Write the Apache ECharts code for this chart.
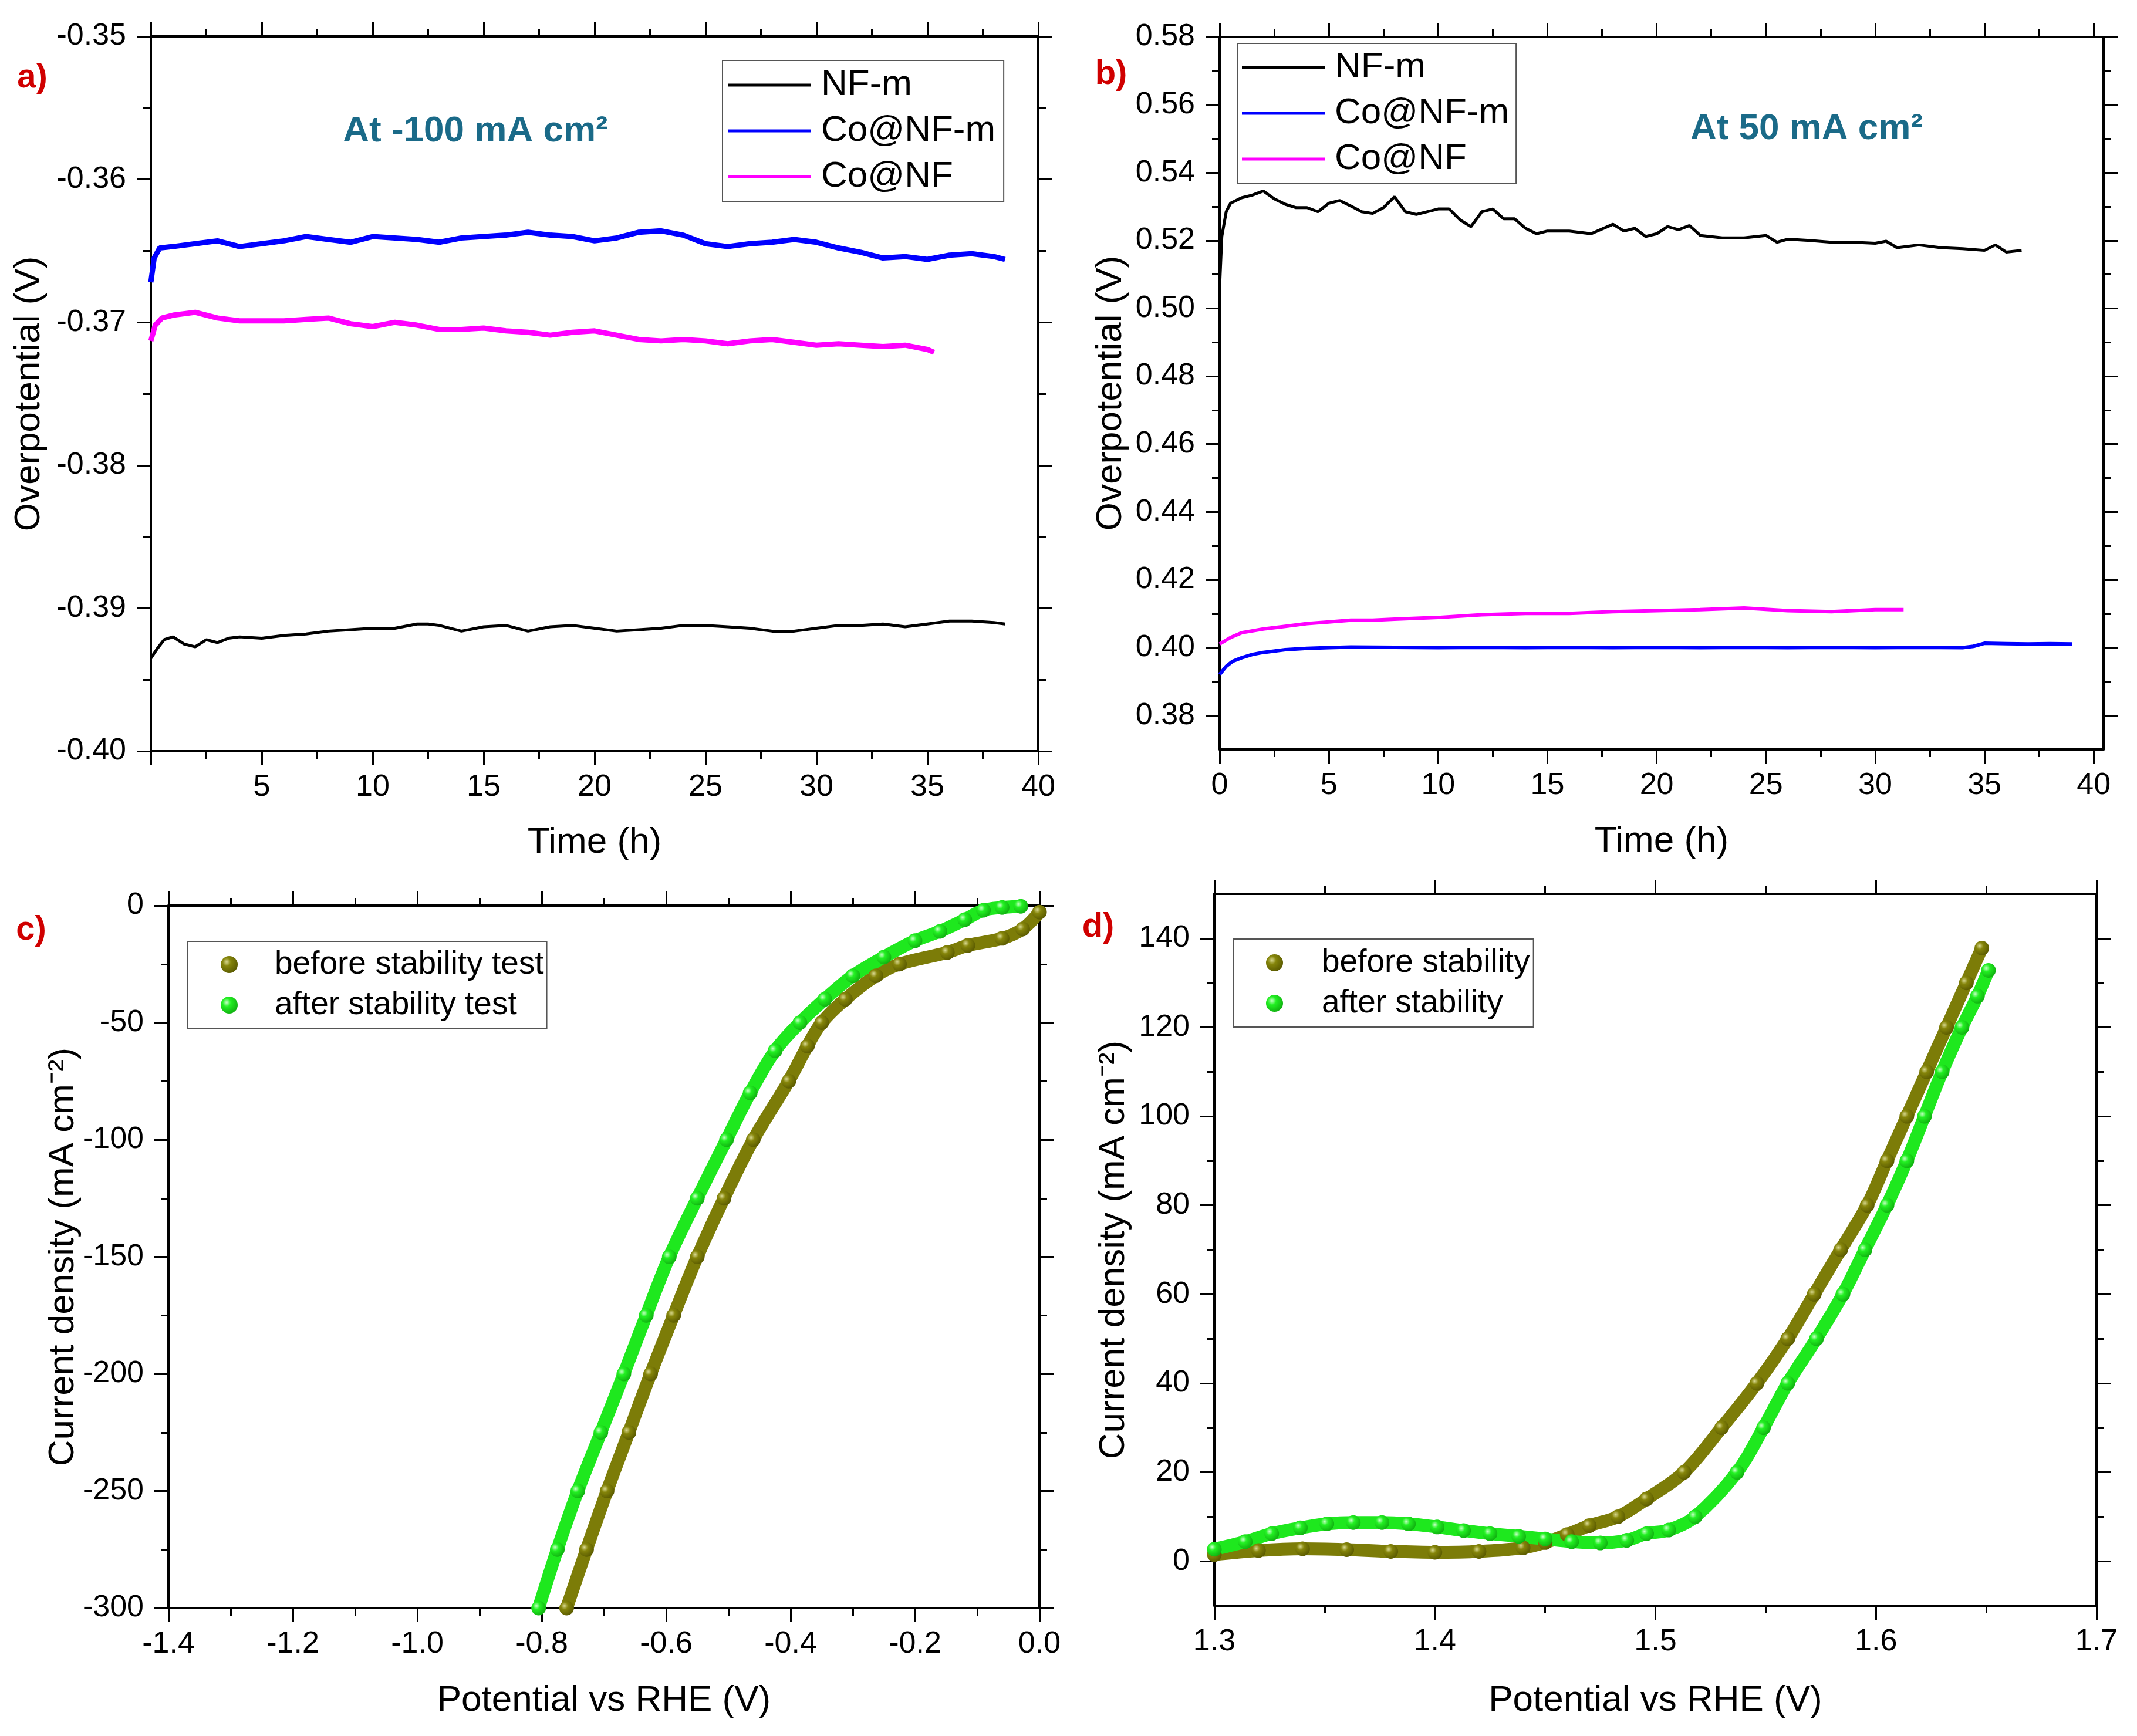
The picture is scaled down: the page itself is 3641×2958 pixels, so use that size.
<!DOCTYPE html>
<html>
<head>
<meta charset="utf-8">
<script src="https://cdn.jsdelivr.net/npm/echarts@6/dist/echarts.min.js"></script>
<style>
  html, body { margin: 0; padding: 0; background: #fff; }
  #main { width: 3641px; height: 2958px; }
</style>
</head>
<body>
<div id="main"></div>
<script>
// ---- panel a: overpotential at -100 mA cm2 ----
const timeNFmA = [0,0.3,0.6,1,1.5,2,2.5,3,3.5,4,5,6,7,8,9,10,11,12,12.5,13,14,15,16,17,18,19,20,21,22,23,24,25,26,27,28,29,30,31,32,33,34,35,36,37,38,38.5];
const nfmA = [-0.3935,-0.3928,-0.3922,-0.3920,-0.3925,-0.3927,-0.3922,-0.3924,-0.3921,-0.3920,-0.3921,-0.3919,-0.3918,-0.3916,-0.3915,-0.3914,-0.3914,-0.3911,-0.3911,-0.3912,-0.3916,-0.3913,-0.3912,-0.3916,-0.3913,-0.3912,-0.3914,-0.3916,-0.3915,-0.3914,-0.3912,-0.3912,-0.3913,-0.3914,-0.3916,-0.3916,-0.3914,-0.3912,-0.3912,-0.3911,-0.3913,-0.3911,-0.3909,-0.3909,-0.3910,-0.3911];
const timeCoNFmA = [0,0.15,0.4,1,2,3,4,5,6,7,8,9,10,11,12,13,14,15,16,17,18,19,20,21,22,23,24,25,26,27,28,29,30,31,32,33,34,35,36,37,38,38.5];
const coNFmA = [-0.3672,-0.3655,-0.3648,-0.3647,-0.3645,-0.3643,-0.3647,-0.3645,-0.3643,-0.3640,-0.3642,-0.3644,-0.3640,-0.3641,-0.3642,-0.3644,-0.3641,-0.3640,-0.3639,-0.3637,-0.3639,-0.3640,-0.3643,-0.3641,-0.3637,-0.3636,-0.3639,-0.3645,-0.3647,-0.3645,-0.3644,-0.3642,-0.3644,-0.3648,-0.3651,-0.3655,-0.3654,-0.3656,-0.3653,-0.3652,-0.3654,-0.3656];
const timeCoNFA = [0,0.2,0.5,1,2,3,4,5,6,7,8,9,10,11,12,13,14,15,16,17,18,19,20,21,22,23,24,25,26,27,28,29,30,31,32,33,34,35,35.3];
const coNFA = [-0.3713,-0.3702,-0.3697,-0.3695,-0.3693,-0.3697,-0.3699,-0.3699,-0.3699,-0.3698,-0.3697,-0.3701,-0.3703,-0.3700,-0.3702,-0.3705,-0.3705,-0.3704,-0.3706,-0.3707,-0.3709,-0.3707,-0.3706,-0.3709,-0.3712,-0.3713,-0.3712,-0.3713,-0.3715,-0.3713,-0.3712,-0.3714,-0.3716,-0.3715,-0.3716,-0.3717,-0.3716,-0.3719,-0.3721];

// ---- panel b: overpotential at 50 mA cm2 ----
const timeNFmB = [0,0.1,0.3,0.5,1,1.5,2,2.5,3,3.5,4,4.5,5,5.5,6,6.5,7,7.5,8,8.5,9,10,10.5,11,11.5,12,12.5,13,13.5,14,14.5,15,16,17,18,18.5,19,19.5,20,20.5,21,21.5,22,23,24,25,25.5,26,27,28,29,30,30.5,31,32,33,34,35,35.5,36,36.7];
const nfmB = [0.5065,0.5212,0.5285,0.5310,0.5326,0.5334,0.5346,0.5323,0.5307,0.5297,0.5297,0.5285,0.5310,0.5318,0.5302,0.5285,0.5280,0.5297,0.5329,0.5285,0.5277,0.5293,0.5293,0.5261,0.5241,0.5285,0.5293,0.5264,0.5264,0.5236,0.5220,0.5228,0.5228,0.5220,0.5248,0.5228,0.5236,0.5212,0.5220,0.5241,0.5232,0.5244,0.5215,0.5208,0.5208,0.5215,0.5195,0.5204,0.5200,0.5195,0.5195,0.5192,0.5198,0.5179,0.5187,0.5179,0.5176,0.5171,0.5187,0.5166,0.5171];
const timeCoNFmB = [0,0.3,0.6,1,1.5,2,3,4,5,6,8,10,12,14,16,18,20,22,24,26,28,30,32,34,34.5,35,36,37,38,39];
const coNFmB = [0.3921,0.3945,0.3960,0.3970,0.3980,0.3986,0.3994,0.3998,0.4000,0.4002,0.4001,0.4000,0.4001,0.4000,0.4001,0.4000,0.4001,0.4000,0.4001,0.4000,0.4001,0.4000,0.4001,0.4000,0.4004,0.4013,0.4012,0.4011,0.4012,0.4011];
const timeCoNFB = [0,0.5,1,2,3,4,5,6,7,8,10,12,14,16,18,20,22,24,26,28,30,31.3];
const coNFB = [0.4011,0.4030,0.4044,0.4055,0.4063,0.4071,0.4076,0.4081,0.4081,0.4084,0.4089,0.4097,0.4101,0.4101,0.4106,0.4109,0.4112,0.4117,0.4109,0.4106,0.4112,0.4112];

// ---- panel c: HER polarisation ----
const potBeforeC = [0.0,-0.027,-0.06,-0.115,-0.148,-0.225,-0.263,-0.312,-0.35,-0.373,-0.403,-0.46,-0.507,-0.550,-0.588,-0.625,-0.660,-0.695,-0.728,-0.760];
const curBeforeC = [-2.8,-10,-14,-17,-20,-25,-30,-40,-50,-60,-75,-100,-125,-150,-175,-200,-225,-250,-275,-300];
const potAfterC = [-0.03,-0.06,-0.09,-0.12,-0.16,-0.20,-0.25,-0.30,-0.345,-0.385,-0.425,-0.465,-0.503,-0.550,-0.595,-0.632,-0.668,-0.705,-0.742,-0.775,-0.805];
const curAfterC = [-0.3,-0.8,-2,-6,-11,-15,-22,-30,-40,-50,-62,-80,-100,-125,-150,-175,-200,-225,-250,-275,-300];

// ---- panel d: OER polarisation ----
const potBeforeD = [1.300,1.320,1.340,1.360,1.380,1.400,1.420,1.440,1.450,1.460,1.470,1.483,1.496,1.513,1.530,1.546,1.560,1.572,1.584,1.596,1.605,1.614,1.623,1.632,1.641,1.648];
const curBeforeD = [1.5,2.4,2.8,2.6,2.2,2.0,2.2,3.0,4.2,6.0,8.0,10.0,14.0,20.0,30.0,40.0,50.0,60.0,70.0,80.0,90.0,100.0,110.0,120.0,130.0,137.8];
const potAfterD = [1.300,1.314,1.326,1.339,1.351,1.363,1.376,1.388,1.401,1.413,1.425,1.438,1.450,1.462,1.475,1.487,1.496,1.506,1.518,1.537,1.549,1.560,1.573,1.585,1.595,1.605,1.614,1.622,1.630,1.639,1.646,1.651];
const curAfterD = [2.7,4.4,6.2,7.5,8.4,8.7,8.7,8.4,7.7,6.9,6.2,5.6,5.0,4.4,4.1,4.7,6.2,7.0,10.0,20.0,30.0,40.0,50.0,60.0,70.0,80.0,90.0,100.0,110.0,120.0,127.0,132.8];

// ---- ticks ----
const timeMajor = [0,5,10,15,20,25,30,35,40];
const timeMinor = [2.5,7.5,12.5,17.5,22.5,27.5,32.5,37.5];
const timeLabelsA = [5,10,15,20,25,30,35,40];
const etaMajorA = [-0.40,-0.39,-0.38,-0.37,-0.36,-0.35];
const etaMinorA = [-0.395,-0.385,-0.375,-0.365,-0.355];
const etaMajorB = [0.38,0.40,0.42,0.44,0.46,0.48,0.50,0.52,0.54,0.56,0.58];
const etaMinorB = [0.39,0.41,0.43,0.45,0.47,0.49,0.51,0.53,0.55,0.57];
const potMajorC = [-1.4,-1.2,-1.0,-0.8,-0.6,-0.4,-0.2,0.0];
const potMinorC = [-1.3,-1.1,-0.9,-0.7,-0.5,-0.3,-0.1];
const curMajorC = [-300,-250,-200,-150,-100,-50,0];
const curMinorC = [-275,-225,-175,-125,-75,-25];
const potMajorD = [1.3,1.4,1.5,1.6,1.7];
const potMinorD = [1.35,1.45,1.55,1.65];
const curMajorD = [0,20,40,60,80,100,120,140];
const curMinorD = [10,30,50,70,90,110,130];

const FONT = '"Liberation Sans", Arial, sans-serif';

function zip(xs, ys) {
    return xs.map((x, i) => [x, ys[i]]);
}

// main axis + minor ticks + mirrored box side, 4 axes per dim per grid
function buildAxes(gridIndex, dim, o) {
    let mainPos = dim === 'x' ? 'bottom' : 'left';
    let mirrorPos = dim === 'x' ? 'top' : 'right';
    let base = {type: 'value', gridIndex: gridIndex, min: o.min, max: o.max, splitLine: {show: false}};
    let line = {show: true, onZero: false, lineStyle: {color: '#000', width: 4}};
    let major = {show: true, inside: false, length: 24, customValues: o.majors, lineStyle: {color: '#000', width: 3}};
    let minor = {show: true, inside: false, length: 13, customValues: o.minors, lineStyle: {color: '#000', width: 3}};
    return [
        Object.assign({}, base, {
            position: mainPos,
            axisLine: line,
            axisTick: major,
            axisLabel: {
                show: true,
                customValues: o.labels || o.majors,
                formatter: o.fmt,
                fontSize: 52,
                fontFamily: FONT,
                color: '#000',
                margin: dim === 'x' ? 36 : 42
            },
            name: o.name,
            nameLocation: 'middle',
            nameGap: o.nameGap,
            nameMoveOverlap: false,
            nameTextStyle: {fontSize: 62, fontFamily: FONT, color: '#000'}
        }),
        Object.assign({}, base, {position: mainPos, axisLine: {show: false, onZero: false}, axisTick: minor, axisLabel: {show: false}}),
        Object.assign({}, base, {position: mirrorPos, axisLine: line, axisTick: major, axisLabel: {show: false}}),
        Object.assign({}, base, {position: mirrorPos, axisLine: {show: false, onZero: false}, axisTick: minor, axisLabel: {show: false}})
    ];
}

const f0 = v => String(v);
const f1 = v => v.toFixed(1);
const f2 = v => v.toFixed(2);

let xAxes = [].concat(
    buildAxes(0, 'x', {min: 0, max: 40, majors: timeMajor, minors: timeMinor, labels: timeLabelsA, fmt: f0, name: 'Time (h)', nameGap: 125}),
    buildAxes(1, 'x', {min: 0, max: 40.45, majors: timeMajor, minors: timeMinor, fmt: f0, name: 'Time (h)', nameGap: 126}),
    buildAxes(2, 'x', {min: -1.4, max: 0, majors: potMajorC, minors: potMinorC, fmt: f1, name: 'Potential vs RHE (V)', nameGap: 127}),
    buildAxes(3, 'x', {min: 1.3, max: 1.7, majors: potMajorD, minors: potMinorD, fmt: f1, name: 'Potential vs RHE (V)', nameGap: 131})
);
let yAxes = [].concat(
    buildAxes(0, 'y', {min: -0.40, max: -0.35, majors: etaMajorA, minors: etaMinorA, fmt: f2, name: 'Overpotential (V)', nameGap: 176}),
    buildAxes(1, 'y', {min: 0.37, max: 0.58, majors: etaMajorB, minors: etaMinorB, fmt: f2, name: 'Overpotential (V)', nameGap: 154}),
    buildAxes(2, 'y', {min: -300, max: 0, majors: curMajorC, minors: curMinorC, fmt: f0, name: 'Current density (mA cm⁻²)', nameGap: 148}),
    buildAxes(3, 'y', {min: -10, max: 150, majors: curMajorD, minors: curMinorD, fmt: f0, name: 'Current density (mA cm⁻²)', nameGap: 140})
);

function timeLine(name, panel, data, color, width) {
    return {
        name: name, type: 'line', xAxisIndex: panel * 4, yAxisIndex: panel * 4,
        data: data, symbol: 'none', color: color,
        lineStyle: {color: color, width: width}
    };
}

function sphere(light, mid, dark) {
    return new echarts.graphic.RadialGradient(0.35, 0.35, 0.7, [
        {offset: 0, color: light}, {offset: 0.35, color: mid}, {offset: 1, color: dark}
    ]);
}

function dotLine(name, panel, data, lineColor, light, mid, dark) {
    return {
        name: name, type: 'line', xAxisIndex: panel * 4, yAxisIndex: panel * 4,
        data: data, symbol: 'circle', symbolSize: 25, showSymbol: true, smooth: 0.35,
        itemStyle: {color: sphere(light, mid, dark)},
        lineStyle: {color: lineColor, width: 22, cap: 'round', join: 'round'}
    };
}

let series = [
    timeLine('NF-m', 0, zip(timeNFmA, nfmA), '#000000', 5),
    timeLine('Co@NF-m', 0, zip(timeCoNFmA, coNFmA), '#0000ff', 9),
    timeLine('Co@NF', 0, zip(timeCoNFA, coNFA), '#ff00ff', 9),
    timeLine('NF-m', 1, zip(timeNFmB, nfmB), '#000000', 5),
    timeLine('Co@NF-m', 1, zip(timeCoNFmB, coNFmB), '#0000ff', 6),
    timeLine('Co@NF', 1, zip(timeCoNFB, coNFB), '#ff00ff', 6),
    dotLine('before stability test', 2, zip(potBeforeC, curBeforeC), '#7c7c08', '#d8d890', '#85850a', '#5a5a00'),
    dotLine('after stability test', 2, zip(potAfterC, curAfterC), '#1ee81e', '#c8ffc8', '#22f022', '#10b010'),
    dotLine('before stability', 3, zip(potBeforeD, curBeforeD), '#7c7c08', '#d8d890', '#85850a', '#5a5a00'),
    dotLine('after stability', 3, zip(potAfterD, curAfterD), '#1ee81e', '#c8ffc8', '#22f022', '#10b010')
];

function lineLegend(left, top, pad, textPad) {
    return {
        orient: 'vertical', left: left, top: top, selectedMode: false,
        data: ['NF-m', 'Co@NF-m', 'Co@NF'],
        icon: 'rect', itemWidth: 142, itemHeight: 5, itemGap: 16,
        padding: pad, borderColor: '#555', borderWidth: 2, backgroundColor: '#fff',
        textStyle: {fontSize: 62, lineHeight: 62, fontFamily: FONT, color: '#000', padding: [0, 0, 0, textPad]}
    };
}

function dotLegend(left, top, names, pad, textPad) {
    return {
        orient: 'vertical', left: left, top: top, selectedMode: false,
        data: names,
        icon: 'circle', itemWidth: 29, itemHeight: 29, itemGap: 14,
        padding: pad, borderColor: '#555', borderWidth: 2, backgroundColor: '#fff',
        textStyle: {fontSize: 55, lineHeight: 55, fontFamily: FONT, color: '#000', padding: [0, 0, 0, textPad]}
    };
}

function panelTag(text, x, y) {
    return {
        type: 'text', x: x, y: y,
        style: {
            text: text, fill: '#d00000', align: 'center', verticalAlign: 'middle',
            fontSize: 58, fontWeight: 'bold', fontFamily: FONT,
            shadowColor: 'rgba(90,0,0,0.6)', shadowOffsetX: 2, shadowOffsetY: 2, shadowBlur: 2
        }
    };
}

function note(text, x, y) {
    return {
        type: 'text', x: x, y: y,
        style: {text: text, fill: '#1a6a88', align: 'center', verticalAlign: 'middle', fontSize: 62, fontWeight: 'bold', fontFamily: FONT}
    };
}

let option = {
    backgroundColor: '#fff',
    animation: false,
    grid: [
        {left: 257, top: 62, width: 1512, height: 1218, outerBoundsMode: 'none'},
        {left: 2078, top: 63, width: 1506, height: 1214, outerBoundsMode: 'none'},
        {left: 287, top: 1543, width: 1484, height: 1197, outerBoundsMode: 'none'},
        {left: 2069, top: 1523, width: 1503, height: 1213, outerBoundsMode: 'none'}
    ],
    xAxis: xAxes,
    yAxis: yAxes,
    legend: [
        lineLegend(1231, 103, [11, 14, 11, 9], 12),
        lineLegend(2108, 74, [10, 12, 10, 8], 11),
        dotLegend(319, 1604, ['before stability test', 'after stability test'], [12, 5, 13, 57], 58),
        dotLegend(2102, 1600, ['before stability', 'after stability'], [13, 6, 13, 55], 61)
    ],
    graphic: [
        panelTag('a)', 55, 133),
        panelTag('b)', 1893, 127),
        panelTag('c)', 53, 1585),
        panelTag('d)', 1871, 1580),
        note('At -100 mA cm²', 810, 224),
        note('At 50 mA cm²', 3078, 220)
    ],
    series: series
};

try {
    let chart = echarts.init(document.getElementById('main'));
    chart.setOption(option);
} catch (err) {
    console.log(`Error drawing chart: ${err}`);
}
</script>
</body>
</html>
